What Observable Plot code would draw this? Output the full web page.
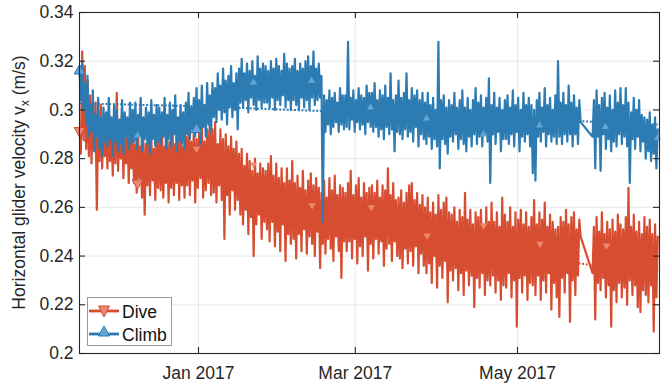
<!DOCTYPE html>
<html><head><meta charset="utf-8">
<script src="https://cdn.jsdelivr.net/npm/d3@7"></script>
<script src="https://cdn.jsdelivr.net/npm/@observablehq/plot@0.6"></script>
<style>body{margin:0;background:#fff;overflow:hidden}</style>
</head><body><div id="chart"></div>
<script>
// ---- data ----
const seriesNames = ["Dive", "Climb"];
const startA = "2016-11-17T06:00:00Z";   // first segment
const startB = "2017-05-29T06:00:00Z";   // after the data gap
const stepHours = 12;
const xTicks = ["2017-01-01T00:00:00Z", "2017-03-01T00:00:00Z", "2017-05-01T00:00:00Z"];
const yTicks = [0.2, 0.22, 0.24, 0.26, 0.28, 0.3, 0.32, 0.34];

const climbA = [
.316,.304,.319,.300,.311,.294,.314,.289,.302,.291,.308,.283,.298,.289,.305,.284,.297,.281,.301,.287,
.299,.285,.305,.288,.297,.281,.302,.287,.300,.283,.296,.286,.304,.282,.299,.289,.297,.284,.303,.286,
.300,.287,.303,.284,.298,.289,.305,.283,.297,.288,.301,.286,.299,.282,.304,.288,.298,.285,.302,.287,
.301,.286,.299,.289,.305,.284,.298,.288,.303,.285,.300,.290,.306,.283,.297,.287,.302,.286,.299,.284,
.303,.290,.307,.288,.301,.292,.305,.289,.309,.291,.304,.286,.310,.293,.302,.289,.311,.294,.306,.291,
.311,.297,.309,.295,.315,.300,.310,.296,.317,.299,.312,.294,.314,.301,.318,.297,.311,.300,.315,.292,
.317,.303,.321,.301,.315,.304,.319,.299,.316,.305,.320,.302,.314,.300,.322,.304,.317,.301,.319,.303,
.318,.303,.316,.301,.320,.305,.317,.300,.321,.304,.318,.302,.316,.306,.323,.301,.319,.304,.317,.300,
.318,.304,.321,.302,.316,.300,.319,.305,.317,.301,.320,.304,.322,.300,.318,.305,.324,.302,.317,.304,
.319,.305,.314,.254,.306,.291,.304,.294,.308,.290,.305,.293,.307,.295,.303,.291,.309,.294,.306,.292,
.306,.293,.328,.292,.305,.296,.308,.291,.304,.295,.309,.292,.306,.294,.305,.290,.310,.295,.307,.293,
.307,.291,.311,.293,.304,.289,.308,.292,.306,.288,.310,.293,.305,.290,.315,.292,.304,.283,.306,.291,
.312,.290,.305,.288,.307,.292,.315,.289,.304,.291,.309,.287,.306,.293,.308,.285,.304,.290,.307,.288,
.303,.286,.307,.289,.302,.284,.305,.288,.300,.285,.328,.276,.304,.288,.306,.286,.301,.282,.304,.289,
.302,.287,.307,.290,.301,.284,.304,.288,.308,.286,.301,.283,.305,.289,.300,.285,.304,.290,.309,.286,
.303,.289,.306,.285,.301,.290,.305,.287,.313,.270,.302,.290,.307,.286,.301,.291,.305,.283,.300,.288,
.304,.288,.306,.286,.301,.290,.308,.285,.302,.291,.305,.283,.300,.289,.307,.287,.302,.290,.305,.285,
.302,.274,.300,.271,.304,.289,.307,.287,.301,.291,.309,.285,.302,.290,.305,.287,.300,.289,.306,.286,
.320,.289,.303,.286,.307,.290,.302,.287,.310,.290,.303,.285,.306,.290,.301,.286,.304,.295];
const climbB = [
.289,.304,.276,.308,.289,.302,.275,.305,.290,.307,.284,.301,.288,.306,.283,.300,.287,.308,.285,.303,
.290,.309,.286,.302,.289,.309,.285,.303,.270,.299,.288,.305,.284,.300,.289,.304,.283,.298,.287,.297,
.280,.296,.283,.299,.279,.294,.282,.297,.276,.292];

const diveA = [
.292,.282,.324,.288,.318,.284,.312,.281,.306,.278,.300,.285,.303,.259,.297,.279,.302,.276,.295,.281,
.295,.276,.299,.279,.293,.273,.298,.278,.307,.275,.294,.280,.299,.272,.292,.278,.296,.270,.293,.276,
.289,.270,.286,.266,.291,.272,.285,.264,.288,.257,.286,.269,.292,.265,.288,.271,.284,.263,.290,.268,
.288,.267,.291,.264,.285,.270,.290,.262,.287,.268,.292,.265,.286,.270,.289,.263,.291,.269,.285,.264,
.289,.269,.293,.265,.287,.271,.292,.262,.288,.268,.291,.272,.295,.264,.287,.267,.292,.270,.296,.265,
.292,.266,.295,.262,.286,.269,.292,.263,.288,.247,.290,.265,.285,.257,.289,.267,.284,.259,.287,.263,
.282,.257,.284,.253,.277,.259,.282,.249,.279,.256,.275,.240,.280,.253,.274,.257,.278,.247,.276,.254,
.275,.251,.278,.246,.281,.254,.273,.244,.278,.250,.272,.242,.276,.253,.270,.238,.276,.249,.271,.245,
.279,.247,.270,.239,.273,.249,.268,.242,.275,.251,.267,.241,.271,.248,.274,.245,.269,.240,.272,.250,
.268,.235,.266,.245,.271,.241,.264,.247,.272,.243,.267,.238,.273,.248,.265,.242,.269,.231,.268,.246,
.266,.242,.270,.246,.275,.239,.265,.247,.269,.237,.272,.244,.264,.240,.270,.248,.266,.234,.268,.245,
.269,.239,.266,.247,.271,.241,.264,.246,.269,.236,.267,.243,.276,.245,.265,.238,.270,.246,.263,.240,
.264,.239,.267,.235,.262,.243,.266,.237,.269,.242,.270,.236,.263,.244,.266,.233,.261,.241,.265,.236,
.260,.233,.264,.237,.258,.229,.262,.240,.257,.227,.265,.236,.259,.231,.262,.238,.264,.221,.258,.234,
.257,.230,.260,.235,.254,.226,.259,.233,.256,.224,.266,.234,.255,.228,.259,.232,.253,.219,.258,.231,
.256,.227,.259,.233,.253,.224,.260,.230,.254,.228,.262,.232,.254,.225,.258,.230,.252,.222,.264,.228,
.257,.227,.254,.233,.260,.223,.252,.230,.258,.211,.255,.231,.259,.225,.253,.232,.258,.222,.252,.229,
.256,.228,.263,.224,.253,.232,.258,.222,.255,.230,.262,.225,.252,.233,.257,.218,.254,.229,.251,.223,
.252,.215,.256,.231,.254,.225,.259,.233,.253,.213,.256,.230,.258,.224,.251,.232,.255,.248];
const diveB = [
.233,.252,.214,.256,.229,.250,.226,.258,.231,.249,.223,.254,.228,.251,.211,.255,.226,.250,.221,.257,
.229,.253,.223,.251,.227,.256,.220,.268,.230,.252,.224,.257,.228,.250,.219,.254,.217,.249,.226,.256,
.224,.252,.221,.255,.228,.249,.209,.253,.223,.248];

const climbTrendDates = ["2016-11-17T06:00Z", "2017-01-01T00:00Z", "2017-03-01T00:00Z", "2017-05-01T00:00Z", "2017-06-22T18:00Z"];
const climbTrend = [0.3027, 0.3015, 0.2990, 0.2965, 0.2940];
const diveTrendDates = climbTrendDates;
const diveTrend = [0.288, 0.276, 0.258, 0.241, 0.232];

const climbMarkDates = ["2016-12-09T01:00Z", "2017-01-21T17:00Z", "2017-02-12T12:00Z", "2017-03-06T17:00Z", "2017-03-27T19:00Z", "2017-04-18T05:00Z", "2017-05-09T07:00Z", "2017-06-03T02:00Z", "2017-06-22T18:00Z"];
const climbMarkValues = [0.2895, 0.3113, 0.312, 0.301, 0.2965, 0.290, 0.2936, 0.293, 0.2885];
const climbKeyDates = ["2016-11-17T06:00Z", "2016-12-31T06:00Z"];
const climbKeyValues = [0.316, 0.292];
const diveMarkDates = ["2016-12-31T06:00Z", "2017-01-21T17:00Z", "2017-02-12T18:00Z", "2017-03-07T00:00Z", "2017-03-28T00:00Z", "2017-04-18T05:00Z", "2017-05-09T12:00Z", "2017-06-03T12:00Z"];
const diveMarkValues = [0.284, 0.2776, 0.2608, 0.260, 0.2484, 0.2525, 0.245, 0.2443];
const diveKeyDates = ["2016-11-17T06:00Z", "2016-12-09T01:00Z"];
const diveKeyValues = [0.2915, 0.270];

// ---- build ----
const HOUR = 3600e3;
function sampled(start, values) {
  const t0 = +new Date(start);
  return values.map((v, k) => ({date: new Date(t0 + k * stepHours * HOUR), v}));
}
const pairs = (dates, vals) => dates.map((d, k) => ({date: new Date(d), v: vals[k]}));
const dive = [...sampled(startA, diveA), ...sampled(startB, diveB)];
const climb = [...sampled(startA, climbA), ...sampled(startB, climbB)];
const xTickDates = xTicks.map(d => new Date(d));

const RED = "#D64D31", BLUE = "#2C7BB3", RED_L = "#EA8A72", BLUE_L = "#62A5D8", INK = "#262626";
const FONT = "'Liberation Sans', Arial, Helvetica, sans-serif";

const chart = Plot.plot({
  width: 661, height: 391,
  marginLeft: 79, marginRight: 2, marginTop: 12, marginBottom: 38,
  style: {fontFamily: FONT, fontSize: "17.5px", color: INK, background: "#fff", overflow: "visible"},
  x: {type: "utc", domain: [new Date("2016-11-17T05:38Z"), new Date("2017-06-23T10:05Z")]},
  y: {domain: [0.2, 0.34]},
  marks: [
    Plot.gridY(yTicks, {stroke: INK, strokeOpacity: 0.1, strokeWidth: 1}),
    Plot.gridX(xTickDates, {stroke: INK, strokeOpacity: 0.1, strokeWidth: 1}),
    Plot.line(pairs(diveTrendDates, diveTrend), {x: "date", y: "v", stroke: RED, strokeWidth: 2, strokeDasharray: "2,1.7", strokeLinecap: "butt"}),
    Plot.line(dive, {x: "date", y: "v", stroke: RED, strokeWidth: 2.2}),
    Plot.dot(pairs(diveMarkDates, diveMarkValues), {x: "date", y: "v", symbol: "triangle", rotate: 180, r: 2.7, fill: RED_L}),
    Plot.dot(pairs(diveKeyDates, diveKeyValues), {x: "date", y: "v", symbol: "triangle", rotate: 180, r: 4, fill: RED_L, stroke: RED, strokeWidth: 1}),
    Plot.line(pairs(climbTrendDates, climbTrend), {x: "date", y: "v", stroke: BLUE, strokeWidth: 2, strokeDasharray: "2,1.7", strokeLinecap: "butt"}),
    Plot.line(climb, {x: "date", y: "v", stroke: BLUE, strokeWidth: 2.2}),
    Plot.dot(pairs(climbMarkDates, climbMarkValues), {x: "date", y: "v", symbol: "triangle", r: 2.7, fill: BLUE_L}),
    Plot.dot(pairs(climbKeyDates, climbKeyValues), {x: "date", y: "v", symbol: "triangle", r: 4, fill: BLUE_L, stroke: BLUE, strokeWidth: 1}),
    Plot.frame({stroke: INK, strokeWidth: 1.1}),
    Plot.ruleX(xTickDates, {insetTop: 335, stroke: INK, strokeWidth: 1.1}),
    Plot.ruleX(xTickDates, {insetBottom: 335, stroke: INK, strokeWidth: 1.1}),
    Plot.ruleY(yTicks, {insetRight: 574, stroke: INK, strokeWidth: 1.1}),
    Plot.ruleY(yTicks, {insetLeft: 574, stroke: INK, strokeWidth: 1.1}),
    Plot.axisX(xTickDates, {tickSize: 0, tickPadding: 13, tickFormat: d3.utcFormat("%b %Y"), label: null, fill: INK}),
    Plot.axisY(yTicks, {tickSize: 0, tickPadding: 6, tickFormat: d => String(+d.toFixed(2)), label: null, fill: INK})
  ]
});
document.getElementById("chart").appendChild(chart);

// ---- y label with subscript, and legend ----
const svg = d3.select(chart);
const lab = svg.append("text")
  .attr("transform", "translate(25,182.5) rotate(-90)")
  .attr("text-anchor", "middle").attr("fill", INK)
  .style("font-family", FONT).style("font-size", "17.5px");
lab.append("tspan").text("Horizontal glider velocity v");
lab.append("tspan").attr("dy", 4).style("font-size", "12.5px").text("x");
lab.append("tspan").attr("dy", -4).text(" (m/s)");

const lg = svg.append("g").style("font-family", FONT).style("font-size", "17.5px");
lg.append("rect").attr("x", 87.5).attr("y", 297.5).attr("width", 84).attr("height", 48)
  .attr("fill", "#fff").attr("stroke", "#9a9a9a").attr("stroke-width", 1);
const entries = [
  {name: seriesNames[0], color: RED, light: RED_L, y: 311, down: true},
  {name: seriesNames[1], color: BLUE, light: BLUE_L, y: 334, down: false}
];
for (const e of entries) {
  lg.append("line").attr("x1", 89).attr("x2", 119).attr("y1", e.y).attr("y2", e.y)
    .attr("stroke", e.color).attr("stroke-width", 2.8);
  const pts = e.down
    ? [[98.5, e.y - 5], [109.5, e.y - 5], [104, e.y + 6]]
    : [[98.5, e.y + 2], [109.5, e.y + 2], [104, e.y - 8]];
  lg.append("polygon").attr("points", pts.map(p => p.join(",")).join(" "))
    .attr("fill", e.light).attr("stroke", e.color).attr("stroke-width", 1);
  lg.append("text").attr("x", 122).attr("y", e.y + 7).attr("text-anchor", "start")
    .attr("fill", "#111").text(e.name);
}
</script>
</body></html>
